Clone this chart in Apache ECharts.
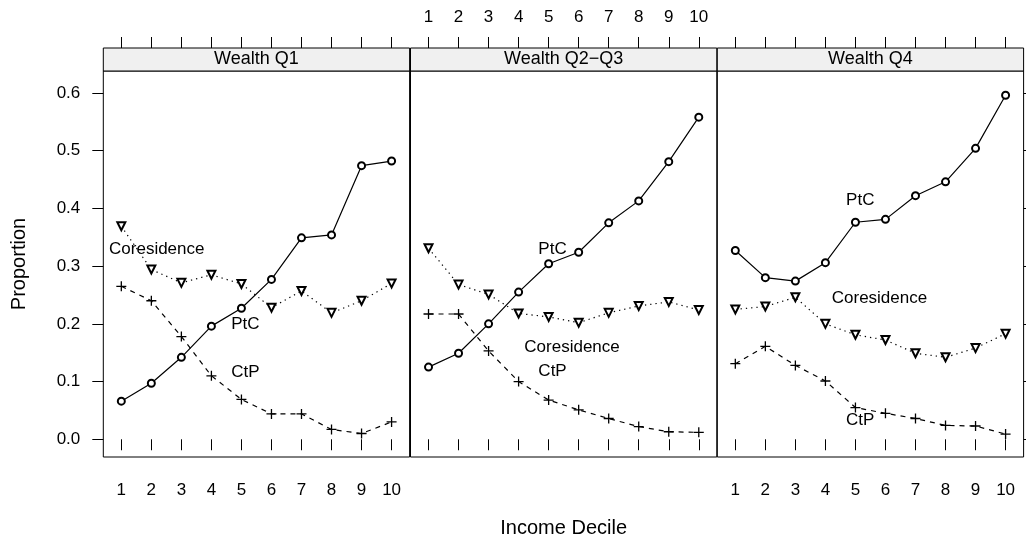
<!DOCTYPE html>
<html><head><meta charset="utf-8">
<script src="https://cdn.jsdelivr.net/npm/echarts@6/dist/echarts.min.js"></script>
<style>html,body{margin:0;padding:0;background:#fff}#c{width:1026px;height:544px}</style>
</head><body><div id="c"></div>
<script>
// ---------- data ----------
const deciles = [1, 2, 3, 4, 5, 6, 7, 8, 9, 10];
const panelNames = ['Wealth Q1', 'Wealth Q2\u2212Q3', 'Wealth Q4'];
const yTicks = [0, 0.1, 0.2, 0.3, 0.4, 0.5, 0.6];
const yTickLabels = ['0.0', '0.1', '0.2', '0.3', '0.4', '0.5', '0.6'];

const ptcQ1   = [0.066, 0.097, 0.142, 0.196, 0.227, 0.277, 0.349, 0.354, 0.474, 0.482];
const coresQ1 = [0.369, 0.294, 0.271, 0.285, 0.269, 0.228, 0.257, 0.219, 0.240, 0.270];
const ctpQ1   = [0.265, 0.240, 0.178, 0.110, 0.069, 0.044, 0.044, 0.017, 0.010, 0.030];

const ptcQ23   = [0.125, 0.149, 0.200, 0.255, 0.304, 0.324, 0.375, 0.413, 0.481, 0.558];
const coresQ23 = [0.331, 0.268, 0.251, 0.218, 0.212, 0.202, 0.219, 0.231, 0.238, 0.224];
const ctpQ23   = [0.217, 0.217, 0.153, 0.100, 0.068, 0.051, 0.036, 0.022, 0.013, 0.012];

const ptcQ4   = [0.327, 0.280, 0.274, 0.306, 0.376, 0.381, 0.422, 0.446, 0.504, 0.596];
const coresQ4 = [0.225, 0.230, 0.246, 0.200, 0.181, 0.172, 0.149, 0.142, 0.158, 0.183];
const ctpQ4   = [0.131, 0.161, 0.128, 0.101, 0.055, 0.045, 0.036, 0.024, 0.023, 0.009];

// in-panel text labels (data coordinates)
const labelText = ['PtC', 'Coresidence', 'CtP'];
const labelXQ1 = [5.13, 2.18, 5.13], labelYQ1 = [0.200, 0.329, 0.116];
const labelXQ23 = [5.13, 5.78, 5.13], labelYQ23 = [0.329, 0.160, 0.117];
const labelXQ4 = [5.16, 5.80, 5.16], labelYQ4 = [0.414, 0.244, 0.032];

// ---------- layout ----------
const FONT = 'Liberation Sans, Arial, Helvetica, sans-serif';
const panelLeft = [103.3, 410.5, 717.3];
const panelW = 306.3;
const gridTop = 71, gridH = 386, stripH = 23;
const xMin = 0.4, xMax = 10.6, yMin = -0.0307, yMax = 0.638;

const ptc = [ptcQ1, ptcQ23, ptcQ4];
const cores = [coresQ1, coresQ23, coresQ4];
const ctp = [ctpQ1, ctpQ23, ctpQ4];
const labX = [labelXQ1, labelXQ23, labelXQ4];
const labY = [labelYQ1, labelYQ23, labelYQ4];

const grids = [], xAxes = [], yAxes = [], series = [], graphics = [];
const tickStyle = {show: true, inside: false, length: 11, lineStyle: {color: '#000', width: 1}};
const labStyle = {fontFamily: FONT, fontSize: 17, color: '#000'};

for (let i = 0; i < 3; i++) {
  grids.push({left: panelLeft[i], top: gridTop, width: panelW, height: gridH,
    show: true, borderColor: '#000', borderWidth: 1, backgroundColor: 'transparent'});
  // bottom x axis
  xAxes.push({gridIndex: i, type: 'value', min: xMin, max: xMax, position: 'bottom',
    axisLine: {show: false}, splitLine: {show: false},
    axisTick: Object.assign({customValues: deciles}, tickStyle),
    axisLabel: Object.assign({show: i !== 1, customValues: deciles, margin: 25}, labStyle),
    name: i === 1 ? 'Income Decile' : '', nameLocation: 'middle', nameGap: 61,
    nameTextStyle: {fontFamily: FONT, fontSize: 20, color: '#000'}});
  // top x axis (above strip)
  xAxes.push({gridIndex: i, type: 'value', min: xMin, max: xMax, position: 'top', offset: stripH,
    axisLine: {show: false}, splitLine: {show: false},
    axisTick: Object.assign({customValues: deciles}, tickStyle),
    axisLabel: Object.assign({show: i === 1, customValues: deciles, margin: 22}, labStyle)});
  // y axis
  yAxes.push({gridIndex: i, type: 'value', min: yMin, max: yMax,
    position: i === 2 ? 'right' : 'left',
    axisLine: {show: false}, splitLine: {show: false},
    axisTick: Object.assign({customValues: yTicks}, tickStyle, {show: i !== 1}),
    axisLabel: Object.assign({show: i === 0, customValues: yTicks, margin: 23,
      formatter: v => yTickLabels[yTicks.indexOf(Math.round(v * 10) / 10)]}, labStyle),
    name: i === 0 ? 'Proportion' : '', nameLocation: 'middle', nameGap: 74, nameRotate: 90,
    nameTextStyle: {fontFamily: FONT, fontSize: 20, color: '#000'}});

  const xi = i * 2;
  series.push({type: 'line', xAxisIndex: xi, yAxisIndex: i,
    data: deciles.map((d, k) => [d, ptc[i][k]]),
    symbol: 'emptyCircle', symbolSize: 7,
    lineStyle: {color: '#000', width: 1.2, type: 'solid'},
    itemStyle: {color: '#000', borderWidth: 1.2}, z: 3});
  series.push({type: 'line', xAxisIndex: xi, yAxisIndex: i,
    data: deciles.map((d, k) => [d, cores[i][k]]),
    symbol: 'emptyTriangle', symbolRotate: 180, symbolSize: 8,
    lineStyle: {color: '#000', width: 1.2, type: [1.3, 4]},
    itemStyle: {color: '#000', borderWidth: 1.2}, z: 3});
  series.push({type: 'line', xAxisIndex: xi, yAxisIndex: i,
    data: deciles.map((d, k) => [d, ctp[i][k]]),
    symbol: 'path://M0,5L10,5M5,0L5,10', symbolSize: 10, symbolKeepAspect: true,
    lineStyle: {color: '#000', width: 1.2, type: [5, 5]},
    itemStyle: {color: '#000', borderColor: '#000', borderWidth: 1.3}, z: 3});
  series.push({type: 'scatter', xAxisIndex: xi, yAxisIndex: i,
    data: labelText.map((t, k) => ({value: [labX[i][k], labY[i][k]], name: t})),
    symbol: 'circle', symbolSize: 0, itemStyle: {color: '#000'}, z: 4,
    label: {show: true, position: 'inside', formatter: p => p.name,
      fontFamily: FONT, fontSize: 17, color: '#000', textBorderWidth: 0, opacity: 1}});

  // strip
  graphics.push({type: 'rect', shape: {x: panelLeft[i], y: gridTop - stripH, width: panelW, height: stripH},
    style: {fill: '#f0f0f0', stroke: '#000', lineWidth: 1}, z: 10});
  graphics.push({type: 'text', x: panelLeft[i] + panelW / 2, y: gridTop - stripH / 2,
    style: {text: panelNames[i], fontFamily: FONT, fontSize: 18, fill: '#000',
      align: 'center', verticalAlign: 'middle'}, z: 11});
}

const chart = echarts.init(document.getElementById('c'), null, {renderer: 'canvas'});
chart.setOption({
  animation: false,
  backgroundColor: '#fff',
  grid: grids, xAxis: xAxes, yAxis: yAxes, series: series, graphic: graphics
});
</script></body></html>
